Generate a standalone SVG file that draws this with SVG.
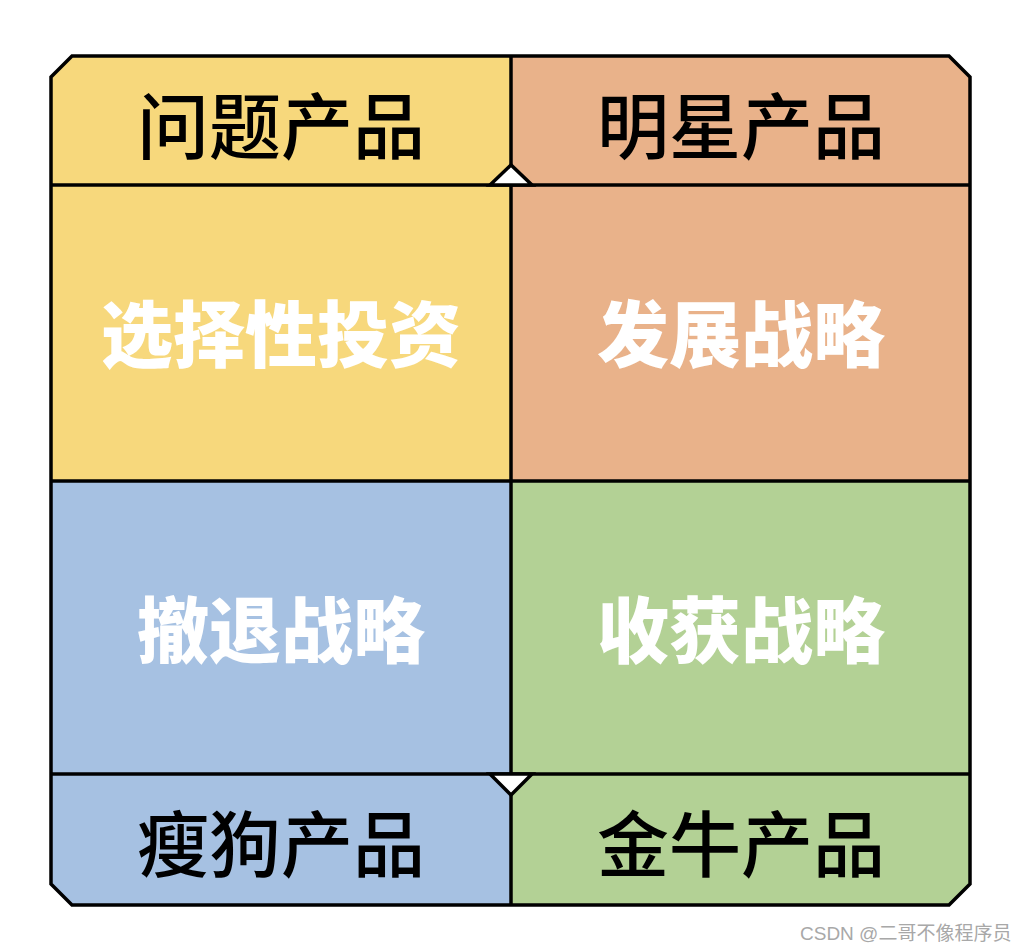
<svg xmlns="http://www.w3.org/2000/svg" width="1026" height="952" viewBox="0 0 1026 952">
<style>
.cell{stroke:none}
.line{stroke:#000;stroke-width:3.5;fill:none}
.lbl{font-family:"Noto Sans CJK SC","Noto Sans",sans-serif;font-size:72px;font-weight:500;fill:#000;text-anchor:middle;dominant-baseline:central}
.strat{font-family:"Noto Sans CJK SC","Noto Sans",sans-serif;font-size:72px;font-weight:900;fill:#fff;text-anchor:middle;dominant-baseline:central}
.wm{font-family:"Liberation Sans","Noto Sans CJK SC",sans-serif;font-size:19px;fill:#a8a8a8}
</style>
<rect width="1026" height="952" fill="#fff"/>
<g id="tl">
<path class="cell" fill="#F7D87C" d="M72,56 L511,56 L511,481 L51,481 L51,77 Z"/>
</g>
<g id="tr">
<path class="cell" fill="#E9B28A" d="M511,56 L949,56 L970,77 L970,481 L511,481 Z"/>
</g>
<g id="bl">
<path class="cell" fill="#A6C1E2" d="M51,481 L511,481 L511,905 L72,905 L51,884 Z"/>
</g>
<g id="br">
<path class="cell" fill="#B3D195" d="M511,481 L970,481 L970,884 L949,905 L511,905 Z"/>
</g>
<g id="connectors">
<path class="line" d="M72,56 L949,56 L970,77 L970,884 L949,905 L72,905 L51,884 L51,77 Z"/>
<line class="line" x1="511" y1="56" x2="511" y2="905"/>
<line class="line" x1="51" y1="185" x2="970" y2="185"/>
<line class="line" x1="51" y1="481" x2="970" y2="481"/>
<line class="line" x1="51" y1="774" x2="970" y2="774"/>
<path class="line" d="M490,185 L511,165 L532,185 Z" style="fill:#fff"/>
<path class="line" d="M490,774 L511,795 L532,774 Z" style="fill:#fff"/>
</g>
<g id="labels">
<text class="lbl" x="281" y="121">问题产品</text>
<text class="lbl" x="741" y="121">明星产品</text>
<text class="strat" x="281" y="329">选择性投资</text>
<text class="strat" x="741" y="329">发展战略</text>
<text class="strat" x="281" y="625">撤退战略</text>
<text class="strat" x="741" y="625">收获战略</text>
<text class="lbl" x="281" y="839">瘦狗产品</text>
<text class="lbl" x="741" y="839">金牛产品</text>
</g>
<text class="wm" x="800" y="940">CSDN @二哥不像程序员</text>
</svg>
